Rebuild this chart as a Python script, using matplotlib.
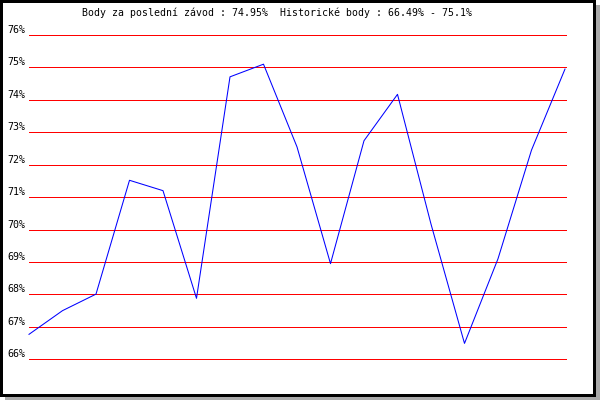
import matplotlib
matplotlib.use("Agg")
import matplotlib.pyplot as plt
from matplotlib.patches import Rectangle
from matplotlib.transforms import ScaledTranslation

# Data
values = [66.77, 67.50, 68.01, 71.52, 71.20, 67.88, 74.71, 75.10, 72.55,
          68.95, 72.74, 74.17, 70.17, 66.49, 69.10, 72.45, 74.95]
tick_values = [66, 67, 68, 69, 70, 71, 72, 73, 74, 75, 76]
tick_labels = ["66%", "67%", "68%", "69%", "70%", "71%", "72%", "73%",
               "74%", "75%", "76%"]
title = "Body za poslední závod : 74.95%  Historické body : 66.49% - 75.1%"

plt.rcParams['font.family'] = ['DejaVu Sans Mono', 'DejaVu Sans']

W, H = 600, 400
fig = plt.figure(figsize=(6, 4), dpi=100)
fig.patch.set_facecolor('white')

# Background frame axes in pixel coordinates
bg = fig.add_axes([0, 0, 1, 1], zorder=0)
bg.set_xlim(0, W)
bg.set_ylim(H, 0)
bg.axis('off')
bg.add_patch(Rectangle((5, 5), W - 5, H - 5, facecolor='#aaaaaa', edgecolor='none'))
bg.add_patch(Rectangle((0, 0), 596, 397, facecolor='white', edgecolor='none'))
bg.add_patch(Rectangle((0, 0), 3, 397, facecolor='black', edgecolor='none'))
bg.add_patch(Rectangle((0, 0), 596, 3, facecolor='black', edgecolor='none'))
bg.add_patch(Rectangle((593, 0), 3, 397, facecolor='black', edgecolor='none'))
bg.add_patch(Rectangle((0, 394), 596, 3, facecolor='black', edgecolor='none'))

# Main plot axes
left_px, right_px = 29, 566
top_px, bottom_px = 35, 359.3
ax = fig.add_axes([left_px / W, (H - bottom_px) / H,
                   (right_px - left_px) / W, (bottom_px - top_px) / H], zorder=1)
ax.patch.set_alpha(0)
ax.set_xlim(0, len(values) - 1 + 0.03)
ax.set_ylim(66, 76)
for s in ax.spines.values():
    s.set_visible(False)

for t in tick_values:
    ax.axhline(t, color='#ff0000', linewidth=0.5, antialiased=False, zorder=1,
               clip_on=False)

ax.plot(range(len(values)), values, color='#0000ff', linewidth=0.75,
        antialiased=True, zorder=2, clip_on=False)

ax.set_xticks([])
ax.set_yticks(tick_values)
ax.set_yticklabels(tick_labels, fontsize=7.2)
ax.tick_params(axis='y', length=0, pad=2.4)
offset = ScaledTranslation(0, 0.06, fig.dpi_scale_trans)
for lab in ax.get_yticklabels():
    lab.set_transform(lab.get_transform() + offset)

fig.text(277 / W, 1 - 13 / H, title, ha='center', va='center', fontsize=7.1)

fig.savefig('out.png', dpi=100)
